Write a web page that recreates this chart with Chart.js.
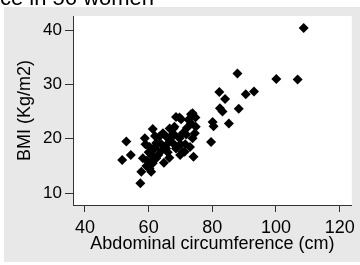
<!DOCTYPE html>
<html>
<head>
<meta charset="utf-8">
<script src="https://cdn.jsdelivr.net/npm/chart.js@4"></script>
<style>
  html, body { margin: 0; padding: 0; background: #ffffff; }
  canvas { display: block; }
</style>
</head>
<body>
<canvas id="bmiChart" width="360" height="265"></canvas>
<script>
// Dados
const circumference = [51.7, 53.0, 54.4, 57.4, 57.7, 58.2, 58.8, 59.3, 59.5, 60.3, 60.3, 60.8, 61.3, 61.3, 61.9,
  62.4, 62.4, 63.4, 64.8, 65.5, 65.5, 66.6, 66.6, 67.6, 67.8, 68.1, 68.6, 68.6, 69.7, 69.7,
  69.9, 70.2, 70.7, 70.7, 71.3, 73.0, 73.3, 73.3, 73.8, 73.8, 74.1, 74.5, 74.7, 74.8, 79.6,
  80.1, 80.4, 82.2, 82.4, 83.2, 84.0, 85.2, 87.9, 88.3, 90.5, 93.1, 100.1, 106.8, 108.7,
  59.0, 60.0, 63.0, 64.0, 66.0, 67.0, 71.5, 72.0, 64.5, 62.0, 60.5,
  64.0, 65.8, 68.0, 70.0, 71.8, 72.5, 62.5, 61.0, 66.5];
const bmi = [16.1, 19.5, 17.0, 11.8, 13.9, 16.4, 20.1, 15.0, 16.0, 18.5, 14.5, 13.9, 21.8, 15.5, 18.2,
  19.2, 16.4, 20.4, 15.6, 18.2, 20.4, 21.9, 19.8, 19.2, 21.9, 22.2, 24.0, 18.2, 23.9, 20.1,
  17.0, 23.6, 21.0, 17.6, 17.6, 18.5, 24.5, 22.8, 24.7, 20.1, 16.7, 21.0, 23.9, 22.2, 19.4,
  23.1, 22.3, 28.6, 25.6, 25.0, 27.3, 22.8, 32.0, 25.5, 28.2, 28.7, 31.0, 30.9, 40.4,
  19.0, 17.5, 17.0, 19.0, 17.5, 20.5, 19.0, 22.0, 21.0, 20.5, 15.8,
  17.8, 19.0, 20.8, 19.0, 20.8, 23.5, 18.8, 17.0, 16.5];
const xTicks = [40, 60, 80, 100, 120];
const yTicks = [10, 20, 30, 40];

const points = circumference.map((x, i) => ({ x: x, y: bmi[i] }));
const fontFamily = '"Liberation Sans", Arial, sans-serif';

// Fundo cinza e área do gráfico branca
const backgroundPlugin = {
    id: 'background',
    beforeDraw(chart) {
        const { ctx, chartArea } = chart;
        ctx.save();
        ctx.fillStyle = '#e8e8e8';
        ctx.fillRect(4, 7, 356, 255);
        ctx.fillStyle = '#ffffff';
        ctx.fillRect(chartArea.left, chartArea.top, chartArea.right - chartArea.left, chartArea.bottom - chartArea.top);
        // título cortado no topo
        ctx.fillStyle = '#000000';
        ctx.font = '22px ' + fontFamily;
        ctx.textBaseline = 'alphabetic';
        ctx.fillText('ce in 56 women', 0, 5);
        ctx.restore();
    }
};

const ctx = document.getElementById('bmiChart').getContext('2d');
new Chart(ctx, {
    type: 'scatter',
    data: {
        datasets: [{
            data: points,
            pointStyle: 'rectRot',
            pointRadius: 5,
            backgroundColor: '#000000',
            borderColor: '#000000',
            borderWidth: 0
        }]
    },
    options: {
        responsive: false,
        animation: false,
        devicePixelRatio: 1,
        layout: { padding: { left: 0, right: 7, top: 16, bottom: 0 } },
        plugins: { legend: { display: false }, tooltip: { enabled: false } },
        scales: {
            x: {
                type: 'linear',
                min: 36.25,
                max: 123.8,
                afterBuildTicks: (scale) => { scale.ticks = xTicks.map(v => ({ value: v })); },
                afterFit: (scale) => { scale.height = 60; },
                grid: { drawOnChartArea: false, tickLength: 7, color: '#333333' },
                border: { color: '#333333', width: 1 },
                ticks: { color: '#000000', font: { family: fontFamily, size: 18 }, padding: 5, maxRotation: 0 },
                title: {
                    display: true,
                    text: 'Abdominal circumference (cm)',
                    color: '#000000',
                    font: { family: fontFamily, size: 18 },
                    padding: { top: 0, bottom: 10 }
                }
            },
            y: {
                min: 7.8,
                max: 42.6,
                afterBuildTicks: (scale) => { scale.ticks = yTicks.map(v => ({ value: v })); },
                afterFit: (scale) => { scale.width = 73; },
                grid: { drawOnChartArea: false, tickLength: 8, color: '#333333' },
                border: { color: '#333333', width: 1 },
                ticks: { color: '#000000', font: { family: fontFamily, size: 17 }, padding: 3 },
                title: {
                    display: true,
                    text: 'BMI (Kg/m2)',
                    color: '#000000',
                    font: { family: fontFamily, size: 18 },
                    padding: { top: 14, bottom: 0 }
                }
            }
        }
    },
    plugins: [backgroundPlugin]
});
</script>
</body>
</html>
